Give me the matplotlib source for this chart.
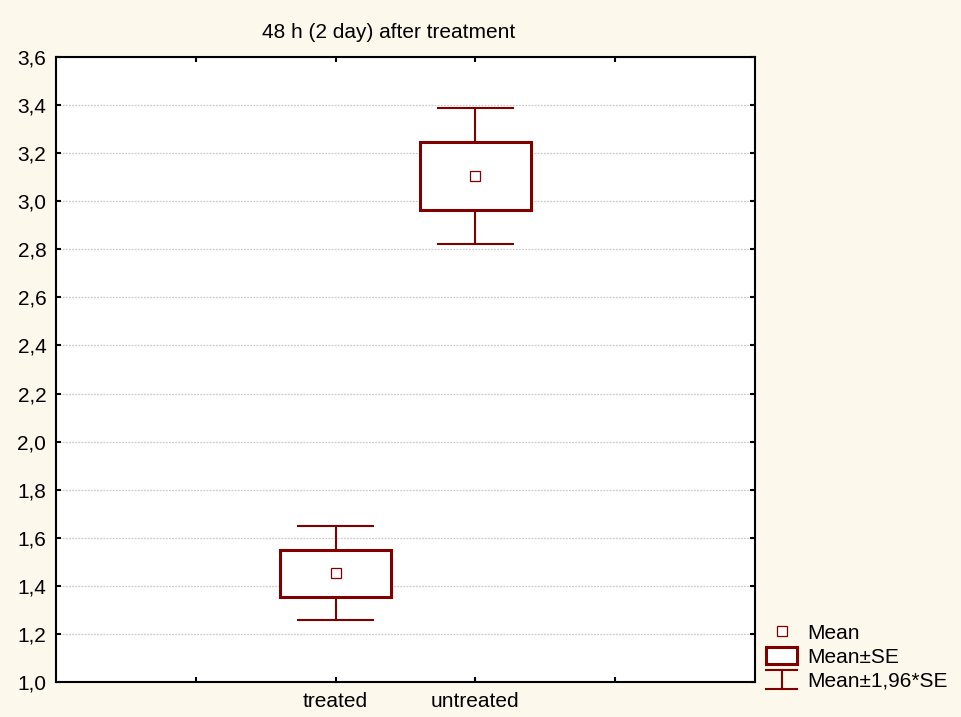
import matplotlib.pyplot as plt
from matplotlib.patches import Rectangle
from matplotlib.lines import Line2D
from matplotlib.legend_handler import HandlerBase
import numpy as np

plt.rcParams['font.family'] = ['Liberation Sans', 'DejaVu Sans']

# Data
groups = ["treated", "untreated"]
means = [1.452, 3.105]
se = [0.098, 0.143]
ci = [0.196, 0.283]   # 1,96*SE

red = "#800000"
bg = "#FDF8EC"


class WhiskerHandler(HandlerBase):
    # draws the little "I" symbol for Mean±1,96*SE
    def create_artists(self, legend, orig_handle, xdescent, ydescent,
                       width, height, fontsize, trans):
        x0 = -xdescent
        x1 = x0 + width
        xm = (x0 + x1) / 2
        y0 = -ydescent - 1
        y1 = -ydescent + height + 1
        kw = dict(color=red, lw=1.5, transform=trans)
        return [Line2D([xm, xm], [y0, y1], **kw),
                Line2D([x0, x1], [y0, y0], **kw),
                Line2D([x0, x1], [y1, y1], **kw)]


fig = plt.figure(figsize=(9.62, 7.17), dpi=100, facecolor=bg)
ax = fig.add_axes([56 / 962, 1 - 682 / 717, 699 / 962, 625 / 717])
ax.set_facecolor("white")

x = np.arange(len(groups))
box_w = 0.79
cap_w = 0.55

for xi, m, s, c in zip(x, means, se, ci):
    # whisker + caps
    ax.vlines(xi, m - c, m + c, color=red, lw=1.5, zorder=2)
    ax.hlines([m - c, m + c], xi - cap_w / 2, xi + cap_w / 2, color=red, lw=1.5, zorder=2)
    # box
    ax.add_patch(Rectangle((xi - box_w / 2, m - s), box_w, 2 * s,
                           facecolor="white", edgecolor=red, lw=2.2, zorder=3))

ax.plot(x, means, ls="none", marker="s", ms=6.5, mfc="white", mec=red, mew=0.9, zorder=4)

ax.set_xlim(-2, 3)
ax.set_ylim(1.0, 3.6)
yt = np.arange(1.0, 3.61, 0.2)
ax.set_yticks(yt)
ax.set_yticklabels([f"{v:.1f}".replace(".", ",") for v in yt])
ax.set_xticks([-1, 0, 1, 2])
ax.set_xticklabels([""] + groups + [""])

ax.yaxis.grid(True, color="#cccccc", lw=0.9, ls=(0, (1.5, 1)))
ax.set_axisbelow(True)
for sp in ax.spines.values():
    sp.set_linewidth(1.5)
    sp.set_color("black")
ax.tick_params(direction="in", length=3.5, width=1.5, labelsize=15,
               top=True, right=True, pad=7)

fig.text(389 / 962, 1 - 33 / 717, "48 h (2 day) after treatment",
         fontsize=15, ha="center", va="center")

h_mean = Line2D([], [], ls="none", marker="s", ms=6.5, mfc="white", mec=red, mew=0.9)
h_box = Rectangle((0, 0), 1, 1, facecolor="white", edgecolor=red, lw=2.2)
h_ci = object()
leg = fig.legend([h_mean, h_box, h_ci], ["Mean", "Mean±SE", "Mean±1,96*SE"],
                 handler_map={object: WhiskerHandler()},
                 loc="upper left", bbox_to_anchor=(766 / 962, 1 - 623 / 717),
                 frameon=False, fontsize=15, borderpad=0, borderaxespad=0,
                 handlelength=1.5, handleheight=0.85, handletextpad=0.5,
                 labelspacing=0.22)

fig.savefig("out.png", dpi=100, facecolor=bg)
